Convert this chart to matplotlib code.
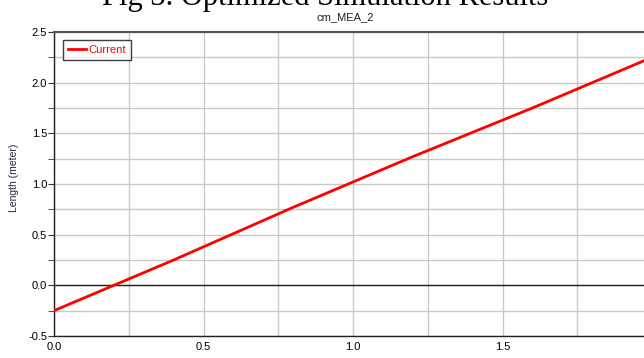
import matplotlib
matplotlib.use("Agg")
import matplotlib.pyplot as plt
from matplotlib.ticker import MultipleLocator
from matplotlib import font_manager

x_vals = [0.0, 0.2, 0.4, 0.6, 0.8, 1.0, 1.2, 1.4, 1.6, 1.8, 2.0]
y_vals = [-0.25, 0.0, 0.25, 0.51, 0.77, 1.02, 1.27, 1.51, 1.75, 2.0, 2.25]
x_ticks = [0.0, 0.5, 1.0, 1.5]
y_ticks = [-0.5, 0.0, 0.5, 1.0, 1.5, 2.0, 2.5]
series_name = "Current"
title = "cm_MEA_2"
ylabel = "Length (meter)"
caption = "Fig 3. Optimized Simulation Results"

names = {f.name for f in font_manager.fontManager.ttflist}
narrow = "Liberation Sans Narrow" if "Liberation Sans Narrow" in names else "Liberation Sans"

fig = plt.figure(figsize=(6.44, 3.58), dpi=100)
ax = fig.add_axes([54/644, 1-336/358, 598/644, 304/358])
ax.set_xlim(0, 2.0)
ax.set_ylim(-0.5, 2.5)

ax.xaxis.set_minor_locator(MultipleLocator(0.25))
ax.yaxis.set_minor_locator(MultipleLocator(0.25))
ax.set_xticks(x_ticks)
ax.set_yticks(y_ticks)
ax.set_xticklabels([f"{v:.1f}" for v in x_ticks], family=narrow, fontsize=8)
ax.set_yticklabels([f"{v:.1f}" for v in y_ticks], family=narrow, fontsize=8)
ax.grid(True, which="both", color="#c8c8c8", linewidth=1.0)
ax.set_axisbelow(True)
ax.tick_params(axis="x", which="both", length=0, pad=4)
ax.tick_params(axis="y", which="both", length=4, direction="out", color="#333333", pad=1)
ax.axhline(0, color="#222222", linewidth=1.0, zorder=1.5)

for s in ["left", "bottom"]:
    ax.spines[s].set_color("#222222")
    ax.spines[s].set_linewidth(1.0)
ax.spines["top"].set_color("#555555")
ax.spines["top"].set_linewidth(1.5)
ax.spines["right"].set_visible(False)

ax.plot(x_vals, y_vals, color="#ff0000", linewidth=2.0, label=series_name, zorder=3)

leg = ax.legend(loc="upper left", bbox_to_anchor=(0.012, 0.98), frameon=True, fancybox=False,
                edgecolor="#111111", handlelength=1.6, handletextpad=0.2, borderpad=0.45,
                borderaxespad=0.2, prop={"family": narrow, "size": 8})
leg.get_frame().set_linewidth(1.0)
for t in leg.get_texts():
    t.set_color("#ff0000")

fig.text(345/644, 1-17/358, title, ha="center", va="center", family=narrow, fontsize=8, color="#222222")
fig.text(14/644, 1-178/358, ylabel, ha="center", va="center", rotation=90, family="Liberation Sans",
         fontsize=7.5, color="#222244")
fig.text(325/644, 1-5/358, caption, ha="center", va="baseline",
         family="Liberation Serif", fontsize=22, color="#000000")

fig.savefig("out.png", dpi=100)
